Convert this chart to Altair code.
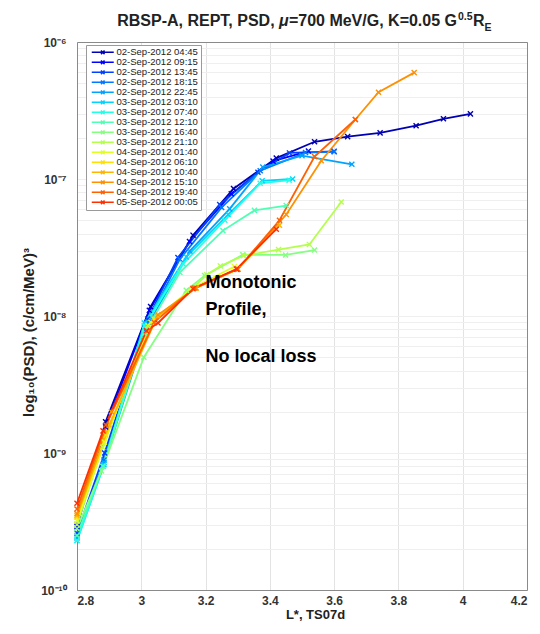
import altair as alt
import pandas as pd

# ---------------- data ----------------
labels = [
    "02-Sep-2012 04:45", "02-Sep-2012 09:15", "02-Sep-2012 13:45", "02-Sep-2012 18:15",
    "02-Sep-2012 22:45", "03-Sep-2012 03:10", "03-Sep-2012 07:40", "03-Sep-2012 12:10",
    "03-Sep-2012 16:40", "03-Sep-2012 21:10", "04-Sep-2012 01:40", "04-Sep-2012 06:10",
    "04-Sep-2012 10:40", "04-Sep-2012 15:10", "04-Sep-2012 19:40", "05-Sep-2012 00:05",
]
colors = [
    "#0000b4", "#0000ff", "#0040ff", "#0078ff", "#00a4ff", "#00d4ff", "#20ffe8", "#50ffb4",
    "#84ff80", "#b4ff4c", "#e0ff20", "#ffe000", "#ffb400", "#ff9000", "#ff6000", "#ff3000",
]

L_01 = [2.80, 2.889, 3.029, 3.161, 3.287, 3.42, 3.539, 3.642, 3.743, 3.855, 3.94, 4.024]
P_01 = [3.0e-10, 1.69e-9, 1.17e-8, 3.89e-8, 8.5e-8, 1.42e-7, 1.87e-7, 2.04e-7, 2.17e-7, 2.45e-7, 2.75e-7, 2.99e-7]
L_02 = [2.80, 2.889, 3.025, 3.15, 3.28, 3.41, 3.52]
P_02 = [2.9e-10, 1.55e-9, 1.1e-8, 3.5e-8, 7.8e-8, 1.35e-7, 1.6e-7]
L_03 = [2.80, 2.886, 3.02, 3.114, 3.244, 3.363, 3.461, 3.60]
P_03 = [2.6e-10, 1.0e-9, 9.5e-9, 2.67e-8, 6.5e-8, 1.12e-7, 1.55e-7, 1.59e-7]
L_04 = [2.80, 2.884, 3.02, 3.12, 3.25, 3.37, 3.511, 3.60]
P_04 = [2.5e-10, 8.9e-10, 9.0e-9, 2.6e-8, 6.2e-8, 1.15e-7, 1.56e-7, 1.58e-7]
L_05 = [2.80, 2.884, 3.02, 3.151, 3.275, 3.378, 3.50, 3.655]
P_05 = [2.4e-10, 8.5e-10, 8.5e-9, 2.98e-8, 6.05e-8, 1.22e-7, 1.48e-7, 1.28e-7]
L_06 = [2.80, 2.884, 3.01, 3.14, 3.27, 3.376, 3.471]
P_06 = [2.3e-10, 8.2e-10, 8.9e-9, 2.7e-8, 5.5e-8, 9.7e-8, 1.0e-7]
L_07 = [2.80, 2.882, 3.01, 3.13, 3.26, 3.37, 3.46]
P_07 = [2.3e-10, 8.0e-10, 8.5e-9, 2.4e-8, 5.0e-8, 9.3e-8, 9.8e-8]
L_08 = [2.80, 2.88, 3.01, 3.12, 3.254, 3.352, 3.451]
P_08 = [2.5e-10, 8.0e-10, 7.5e-9, 2.08e-8, 4.2e-8, 5.9e-8, 6.4e-8]
L_09 = [2.80, 2.876, 3.008, 3.14, 3.197, 3.316, 3.449, 3.539]
P_09 = [2.8e-10, 7.4e-10, 5.0e-9, 1.54e-8, 1.97e-8, 2.8e-8, 2.79e-8, 3.03e-8]
L_10 = [2.80, 2.88, 3.02, 3.16, 3.204, 3.246, 3.318, 3.427, 3.523, 3.622]
P_10 = [3.0e-10, 1.1e-9, 8.5e-9, 1.6e-8, 2.0e-8, 2.32e-8, 2.76e-8, 3.05e-8, 3.33e-8, 6.8e-8]
L_11 = [2.80, 2.885, 3.03, 3.16, 3.29]
P_11 = [3.2e-10, 1.2e-9, 9.0e-9, 1.6e-8, 2.3e-8]
L_12 = [2.80, 2.89, 3.04, 3.17, 3.30]
P_12 = [3.4e-10, 1.35e-9, 9.5e-9, 1.6e-8, 2.2e-8]
L_13 = [2.80, 2.90, 3.05, 3.17, 3.30, 3.43]
P_13 = [3.5e-10, 1.6e-9, 1.0e-8, 1.6e-8, 2.2e-8, 4.6e-8]
L_14 = [2.80, 2.907, 3.052, 3.17, 3.30, 3.451, 3.56, 3.666, 3.738, 3.849]
P_14 = [3.6e-10, 2.0e-9, 1.02e-8, 1.6e-8, 2.2e-8, 5.5e-8, 1.36e-7, 2.72e-7, 4.3e-7, 5.98e-7]
L_15 = [2.80, 2.89, 3.04, 3.165, 3.30, 3.43, 3.539, 3.666]
P_15 = [3.9e-10, 1.6e-9, 9.0e-9, 1.6e-8, 2.2e-8, 5.0e-8, 1.46e-7, 2.72e-7]
L_16 = [2.80, 2.881, 3.016, 3.052, 3.161, 3.296, 3.42]
P_16 = [4.3e-10, 1.45e-9, 7.8e-9, 8.9e-9, 1.58e-8, 2.2e-8, 4.3e-8]

L_all = [L_01, L_02, L_03, L_04, L_05, L_06, L_07, L_08, L_09, L_10, L_11, L_12, L_13, L_14, L_15, L_16]
P_all = [P_01, P_02, P_03, P_04, P_05, P_06, P_07, P_08, P_09, P_10, P_11, P_12, P_13, P_14, P_15, P_16]

x_ticks = [2.8, 3.0, 3.2, 3.4, 3.6, 3.8, 4.0, 4.2]
y_major = [1e-10, 1e-9, 1e-8, 1e-7, 1e-6]

note_lines = ["Monotonic", "Profile,", "No local loss"]
note_L = [3.2, 3.2, 3.2]
note_P = [1.74e-8, 1.11e-8, 5.0e-9]

# ---------------- build tables ----------------
rows = []
for lab, xs, ys in zip(labels, L_all, P_all):
    for xv, yv in zip(xs, ys):
        rows.append({"series": lab, "L": xv, "PSD": yv})
df = pd.DataFrame(rows)
note_df = pd.DataFrame({"L": note_L, "PSD": note_P, "text": note_lines})

y_minor = []
for e in range(-10, -6):
    for k in range(1, 10):
        y_minor.append(k * 10.0 ** e)
y_minor.append(1e-6)

FONT = "Liberation Sans"
XPATH = "M-1,-1L1,1M-1,1L1,-1"
LEG_PATH = "M-1,0L10,0M3.6,-0.9L5.4,0.9M3.6,0.9L5.4,-0.9"

xscale = alt.Scale(domain=[2.8, 4.2], nice=False, zero=False)
yscale = alt.Scale(type="log", domain=[1e-10, 1e-6], nice=False)

ylabel_expr = ("datum.value > 5e-7 ? '10⁻⁶' : datum.value > 5e-8 ? '10⁻⁷' : "
               "datum.value > 5e-9 ? '10⁻⁸' : datum.value > 5e-10 ? '10⁻⁹' : '10⁻¹⁰'")

lines = alt.Chart(df).mark_line(
    strokeWidth=1.8,
    point=alt.OverlayMarkDef(shape=XPATH, filled=False, size=26, strokeWidth=1.4),
).encode(
    x=alt.X("L:Q", scale=xscale,
            axis=alt.Axis(values=x_ticks, format="~g", title="L*, TS07d", grid=True,
                          gridColor="#e3e3e3", ticks=False, labelPadding=5, titlePadding=2,
                          domainColor="#8a8a8a", titleFontSize=13, titleX=238)),
    y=alt.Y("PSD:Q", scale=yscale,
            axis=alt.Axis(values=y_major, labelExpr=ylabel_expr,
                          title="log₁₀(PSD), (c/cm/MeV)³", grid=True, gridColor="#dcdcdc",
                          ticks=False, labelPadding=11, titlePadding=4, titleFontSize=15,
                          titleY=290, domainColor="#8a8a8a")),
    color=alt.Color("series:N", sort=labels,
                    scale=alt.Scale(domain=labels, range=colors),
                    legend=alt.Legend(title=None, orient="none", legendX=9, legendY=3,
                                      symbolType=LEG_PATH, symbolSize=16, symbolStrokeWidth=1.5,
                                      labelFont=FONT, labelFontSize=9.5, labelColor="#222222",
                                      rowPadding=0, padding=3, labelOffset=18, clipHeight=8.6,
                                      strokeColor="#9a9a9a", fillColor="white",
                                      symbolLimit=0, labelLimit=200)),
)

notes = alt.Chart(note_df).mark_text(
    font=FONT, fontSize=18, fontWeight="bold", color="black", align="left", baseline="middle"
).encode(
    x=alt.X("L:Q", scale=xscale,
            axis=alt.Axis(orient="top", values=x_ticks, labels=False, ticks=False, grid=False,
                          title=None, domainColor="#8a8a8a")),
    y=alt.Y("PSD:Q", scale=yscale,
            axis=alt.Axis(orient="right", values=y_minor, labels=False, ticks=False, grid=True,
                          gridColor="#efefef", title=None, domainColor="#8a8a8a")),
    text="text:N",
)

# title pieces (right part anchored at TX, in plot pixels)
TX = 380
W_C = 168.1   # width of "=700 MeV/G, K=0.05 G" at 16px bold
W_MU = 9.8    # width of italic mu at 16px
W_SP = 4.5    # width of a space at 16px


def title_piece(txt, x, y, size, align, style="normal"):
    return alt.Chart(pd.DataFrame({"t": [txt]})).mark_text(
        font=FONT, fontSize=size, fontWeight="bold", fontStyle=style, color="#222222",
        align=align, baseline="alphabetic"
    ).encode(x=alt.value(x), y=alt.value(y), text="t:N")


t_a = title_piece("RBSP-A, REPT, PSD,", TX - W_C - W_MU - W_SP, -16, 16, "right")
t_mu = title_piece("μ", TX - W_C - W_MU, -16, 16, "left", "italic")
t_c = title_piece("=700 MeV/G, K=0.05 G", TX, -16, 16, "right")
t_sup = title_piece("0.5", TX + 1, -22, 10.5, "left")
t_r = title_piece("R", TX + 16, -16, 16, "left")
t_sub = title_piece("E", TX + 27.5, -11, 10.5, "left")

chart = alt.layer(lines, notes, t_a, t_mu, t_c, t_sup, t_r, t_sub).resolve_axis(
    x="independent", y="independent"
).properties(
    width=450, height=548,
    autosize=alt.AutoSizeParams(type="none"),
    padding={"left": 69, "top": 34, "right": 5, "bottom": 33},
    background="white",
).configure_view(
    stroke="#8a8a8a"
).configure_axis(
    labelFont=FONT, labelFontSize=12, labelFontWeight="bold", labelColor="#333333",
    titleFont=FONT, titleFontSize=12, titleFontWeight="bold", titleColor="#222222",
)

chart.save("out.html", embed_options={"renderer": "svg", "actions": False})
